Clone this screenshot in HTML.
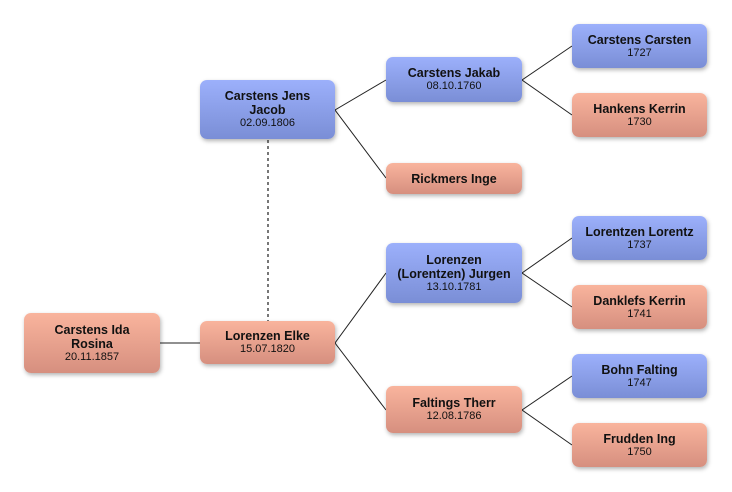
<!DOCTYPE html>
<html><head><style>
body{margin:0;width:732px;height:492px;background:#fff;position:relative;font-family:"Liberation Sans",sans-serif;overflow:hidden}
.b{position:absolute;box-sizing:border-box;border-radius:7px;text-align:center;display:flex;flex-direction:column;justify-content:center;box-shadow:1px 2px 4px rgba(0,0,0,.3);color:#111;line-height:14px}
.m{background:linear-gradient(#9cb0fb,#7a8ed6)}
.f{background:linear-gradient(#f9b49d,#d68f7f)}
.n{font-weight:bold;font-size:12.5px}
.d{font-size:11px;line-height:13px}
svg{position:absolute;left:0;top:0}
</style></head><body>
<svg width="732" height="492">
<g stroke="#222" stroke-width="1" fill="none">
<line x1="160" y1="343" x2="200" y2="343"/>
<polyline points="386,80 335,110 386,178"/>
<polyline points="386,273 335,343 386,410"/>
<polyline points="572,46 522,80 572,115"/>
<polyline points="572,238 522,273 572,307"/>
<polyline points="572,376 522,410 572,445"/>
</g>
<line x1="268" y1="140" x2="268" y2="321" stroke="#777" stroke-width="2" stroke-dasharray="3,3"/>
</svg>
<div class="b f" style="left:24px;top:313px;width:136px;height:60px"><div class="n">Carstens Ida<br>Rosina</div><div class="d">20.11.1857</div></div>
<div class="b f" style="left:200px;top:321px;width:135px;height:43px"><div class="n">Lorenzen Elke</div><div class="d">15.07.1820</div></div>
<div class="b m" style="left:200px;top:80px;width:135px;height:59px"><div class="n">Carstens Jens<br>Jacob</div><div class="d">02.09.1806</div></div>
<div class="b m" style="left:386px;top:57px;width:136px;height:45px"><div class="n">Carstens Jakab</div><div class="d">08.10.1760</div></div>
<div class="b f" style="left:386px;top:163px;width:136px;height:31px"><div class="n">Rickmers Inge</div></div>
<div class="b m" style="left:386px;top:243px;width:136px;height:60px"><div class="n">Lorenzen<br>(Lorentzen) Jurgen</div><div class="d">13.10.1781</div></div>
<div class="b f" style="left:386px;top:386px;width:136px;height:47px"><div class="n">Faltings Therr</div><div class="d">12.08.1786</div></div>
<div class="b m" style="left:572px;top:24px;width:135px;height:44px"><div class="n">Carstens Carsten</div><div class="d">1727</div></div>
<div class="b f" style="left:572px;top:93px;width:135px;height:44px"><div class="n">Hankens Kerrin</div><div class="d">1730</div></div>
<div class="b m" style="left:572px;top:216px;width:135px;height:44px"><div class="n">Lorentzen Lorentz</div><div class="d">1737</div></div>
<div class="b f" style="left:572px;top:285px;width:135px;height:44px"><div class="n">Danklefs Kerrin</div><div class="d">1741</div></div>
<div class="b m" style="left:572px;top:354px;width:135px;height:44px"><div class="n">Bohn Falting</div><div class="d">1747</div></div>
<div class="b f" style="left:572px;top:423px;width:135px;height:44px"><div class="n">Frudden Ing</div><div class="d">1750</div></div>
</body></html>
